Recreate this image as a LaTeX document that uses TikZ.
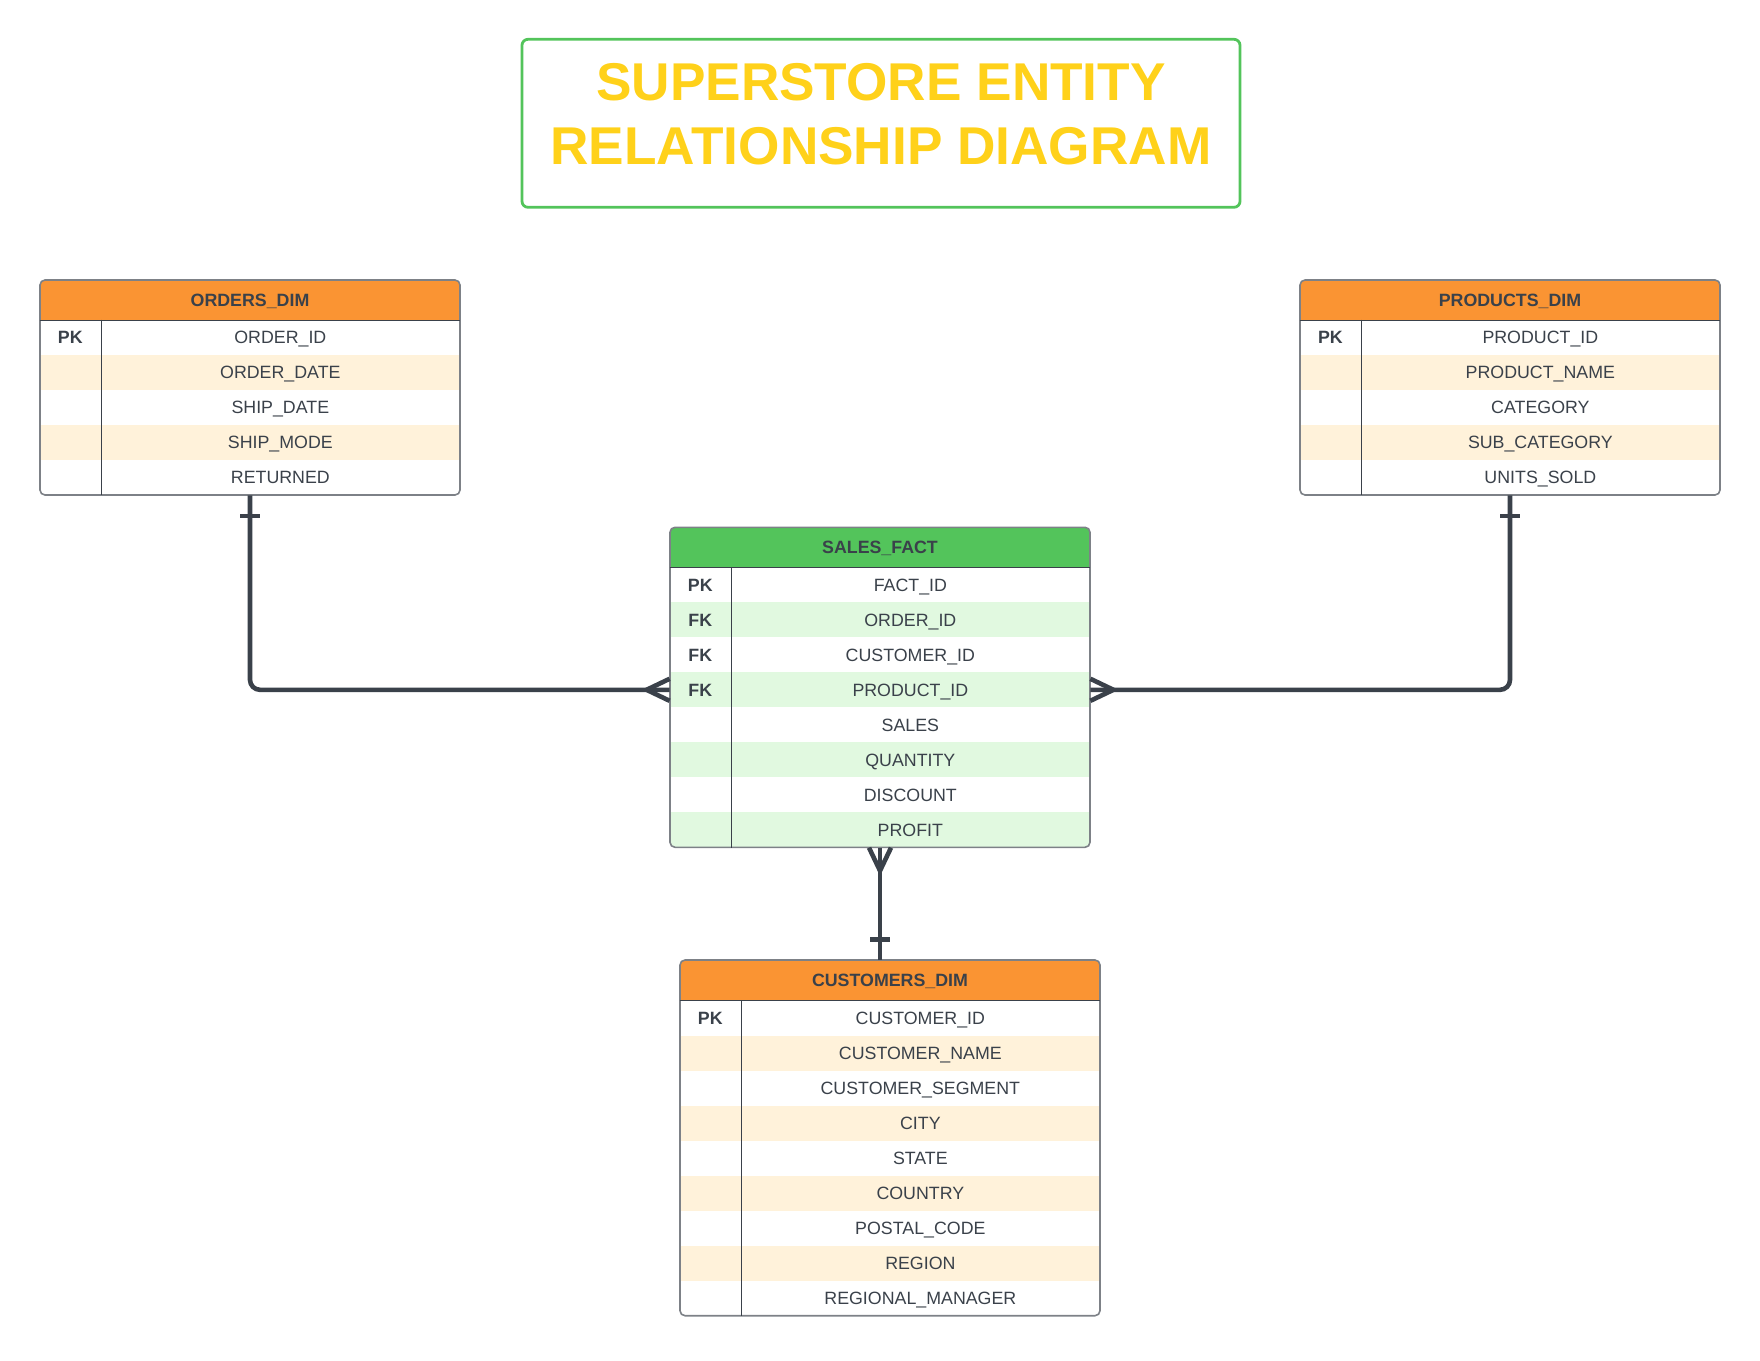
\documentclass[tikz,border=0pt]{standalone}
\usepackage{fontspec}
\setmainfont{Liberation Sans}
\usepackage{xcolor}
\usepackage{tikz}
\usetikzlibrary{arrows.meta, positioning}

\definecolor{inkdark}{HTML}{3A414A}
\definecolor{hdorange}{HTML}{FA9433}
\definecolor{roworange}{HTML}{FFF2DA}
\definecolor{hdgreen}{HTML}{53C45B}
\definecolor{rowgreen}{HTML}{E1F9E0}
\definecolor{titleyellow}{HTML}{FFD11A}
\definecolor{edgegray}{HTML}{7D8187}

\begin{document}
\begin{tikzpicture}[x=0.5pt, y=-0.5pt,
            every node/.style={inner sep=0pt, text=inkdark, text height=6.35pt, text depth=0pt,
                font=\fontsize{8.9}{10}\selectfont},
            headbox/.style={minimum width=210pt, minimum height=20pt, font=\fontsize{8.9}{10}\selectfont\bfseries},
            keycell/.style={minimum width=30.35pt, minimum height=17.5pt, font=\fontsize{8.9}{10}\selectfont\bfseries},
            fieldcell/.style={minimum width=179.65pt, minimum height=17.5pt},
            frame/.style={draw=edgegray, line width=0.8pt, rounded corners=2.5pt},
            rule/.style={draw=inkdark, line width=0.55pt},
            link/.style={draw=inkdark, line width=2.3pt, rounded corners=5pt},
            crow/.style={draw=inkdark, line width=2.3pt},
        ]
        \useasboundingbox (0,0) rectangle (1760,1360);

        % title
        \draw[draw=hdgreen, line width=1.4pt, rounded corners=3pt] (522,39.3) rectangle (1240,207.3);
        \node[align=center, text=titleyellow, text height=, text depth=,
            font=\fontsize{26.6}{32.2}\selectfont\bfseries] (title) at (881,114.2)
            {SUPERSTORE ENTITY\\RELATIONSHIP DIAGRAM};

        % orders table
        \begin{scope}
        \clip[rounded corners=2.5pt] (40,280) rectangle (460,495);
        \fill[hdorange] (40,280) rectangle (460,320);
        \foreach \i in {2,4} \fill[roworange] (40,{285+35*\i}) rectangle ++(420,35);
        \node[headbox] (orders) at (250,300) {ORDERS\_DIM};
        \foreach \k/\f [count=\i] in {PK/ORDER\_ID, /ORDER\_DATE, /SHIP\_DATE, /SHIP\_MODE, /RETURNED}
        {
            \node[keycell] (orders-k\i) at (70.35,{302.5+35*\i}) {\k};
            \node[fieldcell] (orders-\i) at (280.35,{302.5+35*\i}) {\f};
        }
        \end{scope}
        \draw[frame] (40,280) rectangle (460,495);
        \draw[rule] (orders.south west) -- (orders.south east);
        \draw[rule] (orders-k1.north east) -- (orders-k5.south east);

        % products table
        \begin{scope}
        \clip[rounded corners=2.5pt] (1300,280) rectangle (1720,495);
        \fill[hdorange] (1300,280) rectangle (1720,320);
        \foreach \i in {2,4} \fill[roworange] (1300,{285+35*\i}) rectangle ++(420,35);
        \node[headbox] (products) at (1510,300) {PRODUCTS\_DIM};
        \foreach \k/\f [count=\i] in {PK/PRODUCT\_ID, /PRODUCT\_NAME, /CATEGORY, /SUB\_CATEGORY, /UNITS\_SOLD}
        {
            \node[keycell] (products-k\i) at (1330.35,{302.5+35*\i}) {\k};
            \node[fieldcell] (products-\i) at (1540.35,{302.5+35*\i}) {\f};
        }
        \end{scope}
        \draw[frame] (1300,280) rectangle (1720,495);
        \draw[rule] (products.south west) -- (products.south east);
        \draw[rule] (products-k1.north east) -- (products-k5.south east);

        % sales fact table
        \begin{scope}
        \clip[rounded corners=2.5pt] (670,527.3) rectangle (1090,847.3);
        \fill[hdgreen] (670,527.3) rectangle (1090,567.3);
        \foreach \i in {2,4,6,8} \fill[rowgreen] (670,{532.3+35*\i}) rectangle ++(420,35);
        \node[headbox] (sales) at (880,547.3) {SALES\_FACT};
        \foreach \k/\f [count=\i] in {PK/FACT\_ID, FK/ORDER\_ID, FK/CUSTOMER\_ID, FK/PRODUCT\_ID,
            /SALES, /QUANTITY, /DISCOUNT, /PROFIT}
        {
            \node[keycell] (sales-k\i) at (700.35,{549.8+35*\i}) {\k};
            \node[fieldcell] (sales-\i) at (910.35,{549.8+35*\i}) {\f};
        }
        \end{scope}
        \draw[frame] (670,527.3) rectangle (1090,847.3);
        \draw[rule] (sales.south west) -- (sales.south east);
        \draw[rule] (sales-k1.north east) -- (sales-k8.south east);

        % customers table
        \begin{scope}
        \clip[rounded corners=2.5pt] (680,960) rectangle (1100,1315.7);
        \fill[hdorange] (680,960) rectangle (1100,1000.7);
        \foreach \i in {2,4,6,8} \fill[roworange] (680,{965.7+35*\i}) rectangle ++(420,35);
        \node[headbox] (customers) at (890,980.35) {CUSTOMERS\_DIM};
        \foreach \k/\f [count=\i] in {PK/CUSTOMER\_ID, /CUSTOMER\_NAME, /CUSTOMER\_SEGMENT, /CITY,
            /STATE, /COUNTRY, /POSTAL\_CODE, /REGION, /REGIONAL\_MANAGER}
        {
            \node[keycell] (customers-k\i) at (710.35,{983.2+35*\i}) {\k};
            \node[fieldcell] (customers-\i) at (920.35,{983.2+35*\i}) {\f};
        }
        \end{scope}
        \draw[frame] (680,960) rectangle (1100,1315.7);
        \draw[rule] (customers.south west) -- (customers.south east);
        \draw[rule] (customers-k1.north east) -- (customers-k9.south east);

        % relationships
        \coordinate (ordersfoot) at (orders.center |- orders-5.south);
        \coordinate (productsfoot) at (products.center |- products-5.south);
        \coordinate (salesfoot) at (sales.center |- sales-8.south);
        \coordinate (customerstop) at (sales.center |- customers.north);

        \draw[link] (ordersfoot) |- (sales-k4.west);
        \draw[link] (productsfoot) |- (sales-4.east);
        \draw[link] (salesfoot) -- (customerstop);

        % one-side bars
        \draw[crow] ([shift={(-10,20.7)}]ordersfoot) -- ([shift={(10,20.7)}]ordersfoot);
        \draw[crow] ([shift={(-10,20.7)}]productsfoot) -- ([shift={(10,20.7)}]productsfoot);
        \draw[crow] ([shift={(-10,-20.7)}]customerstop) -- ([shift={(10,-20.7)}]customerstop);

        % many-side crow's feet
        \draw[crow] ([shift={(0,-11)}]sales-k4.west) -- ([shift={(-23,0)}]sales-k4.west) -- ([shift={(0,11)}]sales-k4.west);
        \draw[crow] ([shift={(0,-11)}]sales-4.east) -- ([shift={(23,0)}]sales-4.east) -- ([shift={(0,11)}]sales-4.east);
        \draw[crow] ([shift={(-11,0)}]salesfoot) -- ([shift={(0,23)}]salesfoot) -- ([shift={(11,0)}]salesfoot);
\end{tikzpicture}
\end{document}
